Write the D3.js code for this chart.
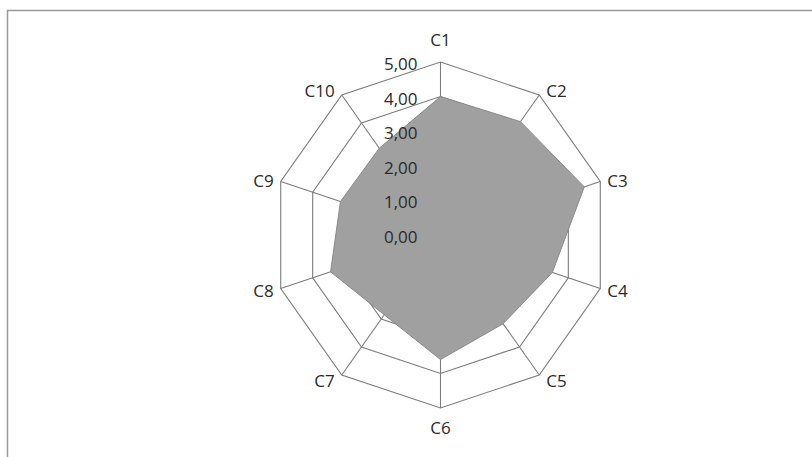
<!DOCTYPE html>
<html>
<head>
<meta charset="utf-8">
<script src="https://cdn.jsdelivr.net/npm/d3@7"></script>
<style>
  html, body { margin: 0; padding: 0; background: #ffffff; }
  svg { display: block; }
</style>
</head>
<body>
<svg id="chart" width="812" height="457"></svg>
<script>
// ---- Data ----
const categories = ["C1", "C2", "C3", "C4", "C5", "C6", "C7", "C8", "C9", "C10"];
const values = [4.00, 4.05, 4.50, 3.50, 3.17, 3.60, 2.85, 3.44, 3.13, 3.10];
const tickValues = [0, 1, 2, 3, 4, 5];
const tickLabels = ["0,00", "1,00", "2,00", "3,00", "4,00", "5,00"];

// ---- Layout ----
const svg = d3.select("#chart");
const cx = 440.5, cy = 235;
const rx = d3.scaleLinear().domain([0, 5]).range([0, 168]);
const ry = d3.scaleLinear().domain([0, 5]).range([0, 173]);
const angle = d3.scalePoint().domain(categories).range([0, 2 * Math.PI * (categories.length - 1) / categories.length]);

function pt(cat, v) {
  const a = angle(cat);
  return [cx + Math.sin(a) * rx(v), cy - Math.cos(a) * ry(v)];
}

// frame (cut off on right and bottom like the scan)
svg.append("rect")
  .attr("x", 7.5).attr("y", 10.5)
  .attr("width", 900).attr("height", 600)
  .attr("fill", "none")
  .attr("stroke", "#9a9a9a")
  .attr("stroke-width", 1.5);

const grid = svg.append("g");
const line = d3.line();

// rings
tickValues.filter(t => t > 0).forEach(t => {
  const pts = categories.map(c => pt(c, t));
  grid.append("path")
    .attr("d", line(pts) + "Z")
    .attr("fill", "none")
    .attr("stroke", "#7c7c7c")
    .attr("stroke-width", 1.1);
});
// spokes
categories.forEach(c => {
  const p = pt(c, 5);
  grid.append("line")
    .attr("x1", cx).attr("y1", cy)
    .attr("x2", p[0]).attr("y2", p[1])
    .attr("stroke", "#7c7c7c")
    .attr("stroke-width", 1.1);
});

// data polygon
svg.append("path")
  .attr("d", line(categories.map((c, i) => pt(c, values[i]))) + "Z")
  .attr("fill", "#a0a0a0")
  .attr("stroke", "#8a8a8a")
  .attr("stroke-width", 1);

// tick labels along C1 axis
svg.append("g").selectAll("text")
  .data(tickValues)
  .join("text")
  .attr("x", cx - 23)
  .attr("y", (d) => cy - ry(d) + 8)
  .attr("text-anchor", "end")
  .attr("font-family", "'Open Sans', 'Noto Sans', sans-serif")
  .attr("font-size", 17)
  .attr("fill", "#2a2a2a")
  .text((d, i) => tickLabels[i]);

// category labels
svg.append("g").selectAll("text")
  .data(categories)
  .join("text")
  .each(function(c) {
    const a = angle(c);
    const s = Math.sin(a), co = Math.cos(a);
    const p = pt(c, 5);
    let x = p[0], y, anchor;
    if (Math.abs(s) < 0.1) {
      anchor = "middle";
      y = co > 0 ? p[1] - 16 : p[1] + 26;
    } else {
      anchor = s > 0 ? "start" : "end";
      x = p[0] + (s > 0 ? 7 : -7);
      y = p[1] + 7 - co * 6;
    }
    d3.select(this)
      .attr("x", x).attr("y", y)
      .attr("text-anchor", anchor);
  })
  .attr("font-family", "'Open Sans', 'Noto Sans', sans-serif")
  .attr("font-size", 17)
  .attr("fill", "#2a2a2a")
  .text(d => d);
</script>
</body>
</html>
